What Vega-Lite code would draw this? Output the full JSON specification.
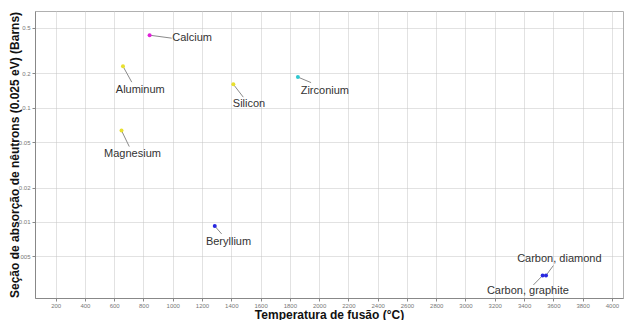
{
  "$schema": "https://vega.github.io/schema/vega-lite/v6.json",
  "autosize": "none",
  "width": 588,
  "height": 287,
  "padding": {"left": 35, "top": 11, "right": 2, "bottom": 22},
  "background": "white",
  "config": {
    "font": "Liberation Sans",
    "view": {"stroke": "#b0b0b0", "strokeWidth": 1},
    "axis": {
      "grid": true,
      "gridColor": "#c4c4c4",
      "gridDash": [1, 1],
      "gridWidth": 1,
      "domainColor": "#888888",
      "tickColor": "#888888",
      "tickSize": 3,
      "labelFont": "Liberation Sans",
      "labelFontSize": 6,
      "labelColor": "#777777",
      "titleFont": "Liberation Sans",
      "titleFontSize": 12,
      "titleFontWeight": "bold",
      "titleColor": "#111111"
    }
  },
  "data": {
    "values": [
      {"element": "Calcium", "temp": 842, "sigma": 0.43, "lx": 993, "ly": 0.405, "tx": 1132, "ty": 0.405},
      {"element": "Aluminum", "temp": 660, "sigma": 0.23, "lx": 720, "ly": 0.167, "tx": 778, "ty": 0.1437},
      {"element": "Magnesium", "temp": 650, "sigma": 0.063, "lx": 703, "ly": 0.0456, "tx": 725, "ty": 0.0394},
      {"element": "Silicon", "temp": 1414, "sigma": 0.16, "lx": 1482, "ly": 0.1234, "tx": 1521, "ty": 0.1071},
      {"element": "Zirconium", "temp": 1855, "sigma": 0.185, "lx": 1945, "ly": 0.1654, "tx": 2039, "ty": 0.1408},
      {"element": "Beryllium", "temp": 1287, "sigma": 0.0092, "lx": 1334, "ly": 0.00785, "tx": 1381, "ty": 0.00664},
      {"element": "Carbon, diamond", "temp": 3550, "sigma": 0.0034, "lx": 3600, "ly": 0.00415, "tx": 3641, "ty": 0.00475},
      {"element": "Carbon, graphite", "temp": 3527, "sigma": 0.0034, "lx": 3464, "ly": 0.00281, "tx": 3426, "ty": 0.00251}
    ]
  },
  "layer": [
    {
      "mark": {"type": "rule", "color": "#8a8a8a", "strokeWidth": 1},
      "encoding": {
        "x": {
          "field": "temp", "type": "quantitative",
          "scale": {"domain": [59, 4076], "nice": false, "zero": false},
          "axis": {
            "title": "Temperatura de fusão (°C)",
            "values": [200, 400, 600, 800, 1000, 1200, 1400, 1600, 1800, 2000, 2200, 2400, 2600, 2800, 3000, 3200, 3400, 3600, 3800, 4000],
            "tickCount": 40,
            "format": "d",
            "labelOverlap": false,
            "labelBound": false,
            "labelPadding": 1,
            "titleY": 16,
            "titleBaseline": "middle"
          }
        },
        "y": {
          "field": "sigma", "type": "quantitative",
          "scale": {"type": "log", "domain": [0.00216, 0.70], "nice": false},
          "axis": {
            "title": "Seção de absorção de nêutrons (0.025 eV) (Barns)",
            "values": [0.005, 0.01, 0.02, 0.05, 0.1, 0.2, 0.5],
            "tickCount": 20,
            "format": "~g",
            "labelOverlap": false,
            "labelPadding": 2,
            "titleX": -21,
            "titleBaseline": "middle"
          }
        },
        "x2": {"field": "lx"},
        "y2": {"field": "ly"}
      }
    },
    {
      "mark": {"type": "circle", "size": 16, "opacity": 1},
      "encoding": {
        "x": {"field": "temp", "type": "quantitative"},
        "y": {"field": "sigma", "type": "quantitative"},
        "color": {
          "field": "element", "type": "nominal", "legend": null,
          "scale": {
            "domain": ["Calcium", "Aluminum", "Magnesium", "Silicon", "Zirconium", "Beryllium", "Carbon, diamond", "Carbon, graphite"],
            "range": ["#e020d8", "#e8e030", "#e8e030", "#e8e030", "#30c8d0", "#2828e0", "#2828e0", "#2828e0"]
          }
        }
      }
    },
    {
      "mark": {"type": "text", "fontSize": 11, "color": "#333333", "align": "center", "baseline": "middle"},
      "encoding": {
        "x": {"field": "tx", "type": "quantitative"},
        "y": {"field": "ty", "type": "quantitative"},
        "text": {"field": "element"}
      }
    }
  ]
}
